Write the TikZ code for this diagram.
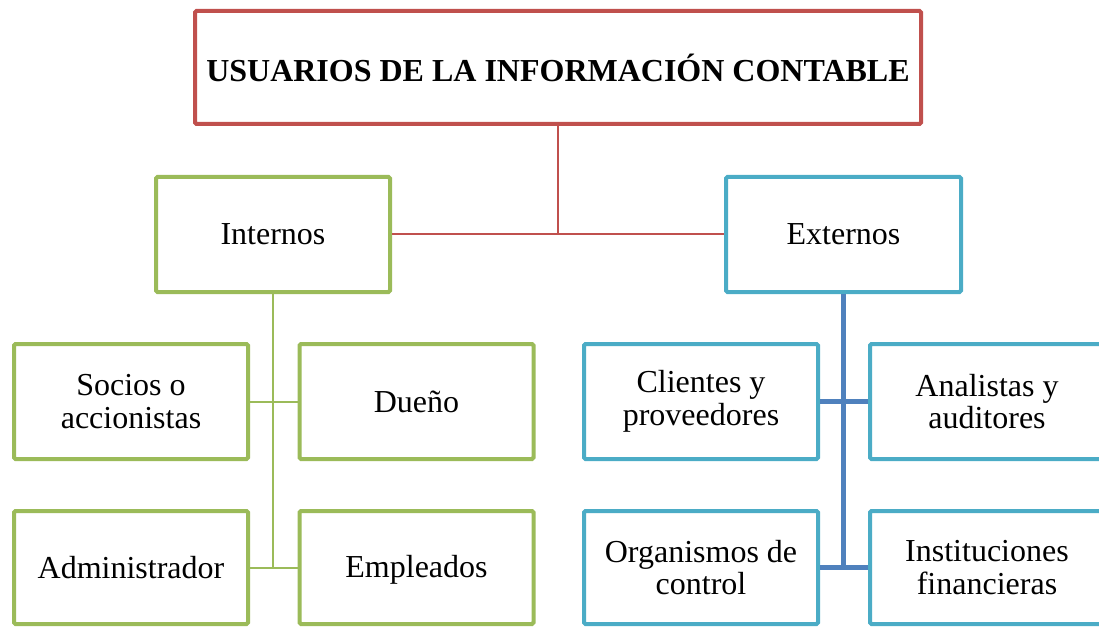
\documentclass[tikz,border=0pt]{standalone}
\usepackage{fontspec}
\setmainfont{Liberation Serif}
\definecolor{cred}{HTML}{C0504D}
\definecolor{cgreen}{HTML}{9BBB59}
\definecolor{ccyan}{HTML}{4BACC6}
\definecolor{cblue}{HTML}{4F81BD}
\begin{document}
\begin{tikzpicture}[x=1pt,y=-1pt,
  box/.style={draw, line width=4pt, rounded corners=1.5pt, inner sep=0pt, align=center,
    font=\fontsize{32}{32.5}\selectfont, fill=white, minimum width=234pt, minimum height=115pt},
  rbox/.style={box, draw=cred, font=\fontsize{32}{33}\selectfont\bfseries},
  gbox/.style={box, draw=cgreen},
  cbox/.style={box, draw=ccyan},
  rline/.style={draw=cred, line width=2pt},
  gline/.style={draw=cgreen, line width=2pt},
  bline/.style={draw=cblue, line width=5pt}]
\useasboundingbox (0,0) rectangle (1099,628);
\clip (0,0) rectangle (1099,628);
\node[rbox, minimum width=726pt, minimum height=113pt] (top) at (558,67.5) {USUARIOS DE LA INFORMACIÓN CONTABLE};
\node[gbox] (int) at (273,234.5) {Internos};
\node[cbox, minimum width=235pt] (ext) at (843.5,234.5) {Externos};
\node[gbox] (soc) at (131,401.5) {Socios o\\accionistas};
\node[gbox] (due) at (416.5,401.5) {Dueño};
\node[gbox, minimum height=113pt] (adm) at (131,567.5) {Administrador};
\node[gbox, minimum height=113pt] (emp) at (416.5,567.5) {Empleados\vphantom{É}};
\node[cbox] (cli) at (701,401.5) {Clientes y\\proveedores};
\node[cbox] (ana) at (987,401.5) {Analistas y\\auditores};
\node[cbox, minimum height=113pt] (org) at (701,567.5) {Organismos de\\control};
\node[cbox, minimum height=113pt] (ins) at (987,567.5) {Instituciones\\financieras};
\draw[rline] (top.south) -- (top.south |- int.east);
\draw[rline] (int.east) -- (ext.west);
\draw[gline] (int.south) -- (int.south |- adm.east);
\draw[gline] (soc.east) -- (due.west);
\draw[gline] (adm.east) -- (emp.west);
\draw[bline] (ext.south) -- (ext.south |- org.east);
\draw[bline] (cli.east) -- (ana.west);
\draw[bline] (org.east) -- (ins.west);
\end{tikzpicture}
\end{document}
